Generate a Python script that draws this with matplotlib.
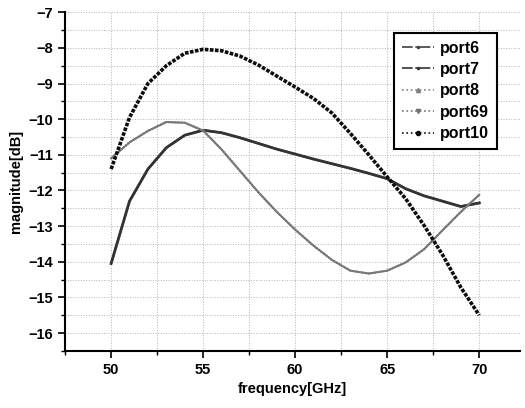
import matplotlib
matplotlib.use("Agg")
import matplotlib.pyplot as plt
from matplotlib.lines import Line2D
from matplotlib.ticker import MultipleLocator

plt.rcParams['font.family'] = ['Liberation Sans', 'DejaVu Sans']
plt.rcParams['font.weight'] = 'bold'

# frequency points [GHz]
freq = [50, 51, 52, 53, 54, 55, 56, 57, 58, 59, 60,
        61, 62, 63, 64, 65, 66, 67, 68, 69, 70]

# some ports lie on top of each other
port6 = [-14.05, -12.3, -11.4, -10.8, -10.45, -10.31, -10.38, -10.52, -10.68, -10.84, -10.98,
         -11.12, -11.25, -11.38, -11.52, -11.67, -11.95, -12.15, -12.3, -12.45, -12.35]
port7 = port6
port8 = [-11.1, -10.65, -10.33, -10.08, -10.1, -10.32, -10.85, -11.45, -12.05, -12.6, -13.1,
         -13.55, -13.95, -14.25, -14.33, -14.25, -14.02, -13.65, -13.12, -12.6, -12.12]
port69 = port8
port10 = [-11.4, -9.95, -9.0, -8.5, -8.15, -8.04, -8.08, -8.23, -8.48, -8.79, -9.1,
          -9.42, -9.83, -10.4, -11.0, -11.62, -12.23, -12.98, -13.8, -14.72, -15.5]

names = ['port6', 'port7', 'port8', 'port69', 'port10']
series = [port6, port7, port8, port69, port10]
colors = ['0.25', '0.2', '0.5', '0.45', '0.05']
styles = ['-.', '-.', ':', ':', ':']
marks = ['.', '.', '^', 'v', 'o']
# how the traces look on the plot (dense, almost solid)
plot_styles = ['-', '-', '-', (0, (1, 0.6)), (0, (1, 0.4))]
widths = [2.0, 1.6, 1.5, 1.4, 2.6]

fig = plt.figure(figsize=(5.25, 4.08), dpi=100)
ax = fig.add_axes([0.124, 0.14, 0.866, 0.83])

for vals, c, ls, lw in zip(series, colors, plot_styles, widths):
    ax.plot(freq, vals, color=c, ls=ls, lw=lw)

ax.set_xlim(47.5, 72.2)
ax.set_ylim(-16.5, -7)
ax.xaxis.set_major_locator(MultipleLocator(5))
ax.xaxis.set_minor_locator(MultipleLocator(2.5))
ax.yaxis.set_major_locator(MultipleLocator(1))
ax.yaxis.set_minor_locator(MultipleLocator(0.5))
ax.grid(True, which='both', ls=':', color='0.7', lw=0.7)

ax.spines['top'].set_visible(False)
ax.spines['right'].set_visible(False)
for s in ['left', 'bottom']:
    ax.spines[s].set_linewidth(1.5)
ax.tick_params(which='major', direction='out', length=5, width=1.2, labelsize=10.5)
ax.tick_params(which='minor', direction='out', length=3, width=1.0)

ax.set_xlabel('frequency[GHz]', fontsize=10.5, fontweight='bold')
ax.set_ylabel('magnitude[dB]', fontsize=10.5, fontweight='bold')

handles = [Line2D([], [], color=c, ls=ls, lw=1.2, marker=m, markersize=3)
           for c, ls, m in zip(colors, styles, marks)]
leg = ax.legend(handles, names, loc='upper right', bbox_to_anchor=(0.95, 0.94),
                fancybox=False, framealpha=1, edgecolor='black', fontsize=11.5,
                handlelength=2.0, handletextpad=0.4, labelspacing=0.4, borderpad=0.5,
                borderaxespad=0)
leg.get_frame().set_linewidth(1.5)

fig.savefig('out.png', dpi=100)
